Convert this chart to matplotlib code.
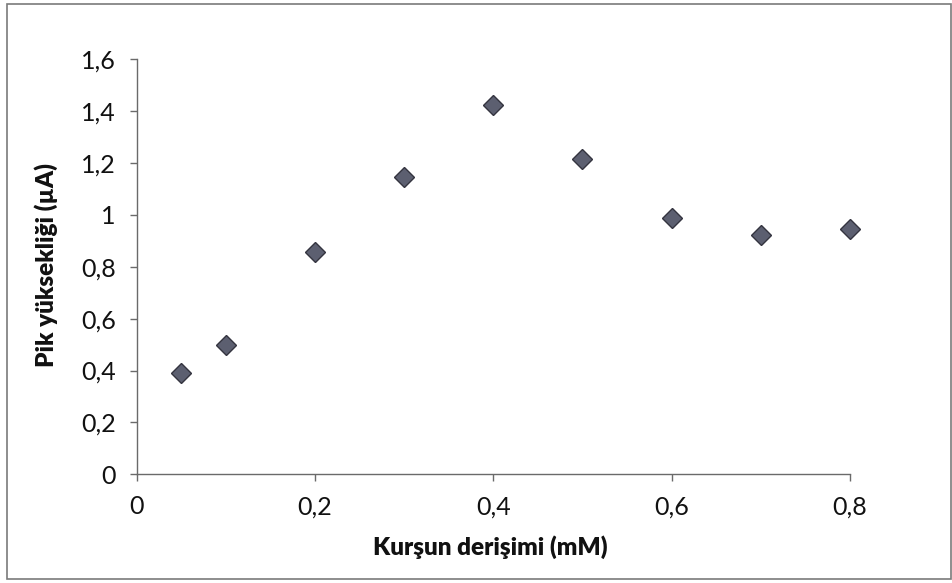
import matplotlib.pyplot as plt
from matplotlib.patches import Rectangle
from matplotlib.ticker import FuncFormatter

# lead concentration (mM) vs. peak height (uA)
concentration = [0.05, 0.1, 0.2, 0.3, 0.4, 0.5, 0.6, 0.7, 0.8]
peak_height = [0.392, 0.498, 0.857, 1.147, 1.423, 1.214, 0.987, 0.922, 0.944]

x_ticks = [0, 0.2, 0.4, 0.6, 0.8]
y_ticks = [0, 0.2, 0.4, 0.6, 0.8, 1.0, 1.2, 1.4, 1.6]

plt.rcParams['font.family'] = ['Lato', 'DejaVu Sans']

fig = plt.figure(figsize=(9.53, 5.83), dpi=100)
ax = fig.add_axes([0.1434, 0.1865, 0.7485, 0.7118])

ax.plot(concentration, peak_height, linestyle='none', marker='D',
        markersize=10.5, markerfacecolor='#5c5f70', markeredgecolor='#34343f',
        markeredgewidth=1.0, clip_on=False)

ax.set_xlim(0, 0.8)
ax.set_ylim(0, 1.6)
ax.set_xticks(x_ticks)
ax.set_yticks(y_ticks)

# decimal comma, drop trailing zeros ("1" not "1,0")
def comma_fmt(v, pos):
    s = ('%.1f' % v).rstrip('0').rstrip('.')
    return s.replace('.', ',')

ax.xaxis.set_major_formatter(FuncFormatter(comma_fmt))
ax.yaxis.set_major_formatter(FuncFormatter(comma_fmt))

for side in ['top', 'right']:
    ax.spines[side].set_visible(False)
for side in ['left', 'bottom']:
    ax.spines[side].set_color('#6a6a6a')
    ax.spines[side].set_linewidth(1.0)

ax.tick_params(axis='both', direction='out', length=5, width=1.0,
               color='#6a6a6a', labelsize=18, labelcolor='#111111', pad=10)

fig.text(0.514, 0.062, 'Kurşun derişimi (mM)', ha='center', va='center',
         fontsize=17.5, fontweight='heavy', color='#111111')
fig.text(0.048, 0.545, 'Pik yüksekliği (µA)', ha='center', va='center',
         rotation=90, fontsize=17.5, fontweight='heavy', color='#111111')

# thin frame round the whole chart area
fig.patches.append(Rectangle((0.007, 0.007), 0.991, 0.986, transform=fig.transFigure,
                             fill=False, edgecolor='#7a7a7a', linewidth=1.2))

fig.savefig('out.png', dpi=100)
